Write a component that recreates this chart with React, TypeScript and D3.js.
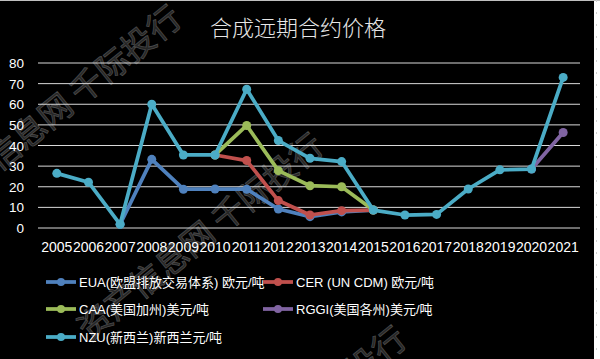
import React from "react";
import * as d3 from "d3";

const years = ["2005","2006","2007","2008","2009","2010","2011","2012","2013","2014","2015","2016","2017","2018","2019","2020","2021"];
const yTicks = [0, 10, 20, 30, 40, 50, 60, 70, 80];

// values (null = no data)
const euaValues: (number | null)[] = [null, null, 1.8, 33.3, 18.8, 18.9, 18.8, 9.2, 5.5, 7.8, 8.7, null, null, null, null, null, null];
const cerValues: (number | null)[] = [null, null, null, null, null, 35.4, 32.7, 13.3, 6.3, 8.4, 8.7, null, null, null, null, null, null];
const caaValues: (number | null)[] = [null, null, null, null, null, 35.4, 49.7, 27.8, 20.5, 20.0, 8.7, null, null, null, null, null, null];
const rggiValues: (number | null)[] = [null, null, null, null, null, null, null, null, null, null, null, null, null, null, null, 28.6, 46.3];
const nzuValues: (number | null)[] = [26.5, 22.2, 1.8, 60.0, 35.4, 35.4, 67.3, 42.4, 33.8, 32.2, 8.7, 6.3, 6.6, 18.9, 28.2, 28.6, 73.0];

const seriesNames = [
  "EUA(欧盟排放交易体系) 欧元/吨",
  "CER (UN CDM) 欧元/吨",
  "CAA(美国加州)美元/吨",
  "RGGI(美国各州)美元/吨",
  "NZU(新西兰)新西兰元/吨",
];
const seriesColors = ["#4F81BD", "#C0504D", "#9BBB59", "#8064A2", "#4BACC6"];
const seriesValues = [euaValues, cerValues, caaValues, rggiValues, nzuValues];

const title = "合成远期合约价格";
const watermark = "资产信息网 千际投行";

export default function App() {
  const W = 600, H = 359;
  const x = d3.scaleBand<string>().domain(years).range([41, 579]).padding(0);
  const cx = (yr: string) => (x(yr) as number) + x.bandwidth() / 2;
  const y = d3.scaleLinear().domain([0, 80]).range([228, 63]);
  const line = d3
    .line<{ yr: string; v: number | null }>()
    .defined((d) => d.v !== null)
    .x((d) => cx(d.yr))
    .y((d) => y(d.v as number));

  const latin = "'Liberation Sans', 'Noto Sans CJK SC', sans-serif";
  const legendPos = [
    { lx: 46, ly: 282 },
    { lx: 263, ly: 282 },
    { lx: 46, ly: 309 },
    { lx: 263, ly: 309 },
    { lx: 46, ly: 337 },
  ];
  const wms = [
    { x: 57, y: 107 },
    { x: 199, y: 235 },
    { x: 282, y: 428 },
  ];

  return (
    <svg width={W} height={H} style={{ position: "absolute", left: 0, top: 0, display: "block" }}>
      <rect x={0} y={0} width={W} height={H} fill="#ffffff" />
      <rect x={0} y={0} width={594} height={H} fill="#000000" />
      <line x1={0} x2={600} y1={0.5} y2={0.5} stroke="#bfbfbf" />
      <line x1={596.5} x2={596.5} y1={0} y2={H} stroke="#d0d0d0" strokeDasharray="2,10" />

      {wms.map((p, i) => (
        <text
          key={"wm" + i}
          x={p.x}
          y={p.y}
          transform={`rotate(-39 ${p.x} ${p.y})`}
          textAnchor="middle"
          dominantBaseline="central"
          fontFamily="'Noto Sans CJK SC', sans-serif"
          fontSize={33}
          fill="#262626"
          stroke="#4a4a4a"
          strokeWidth={0.8}
        >
          {watermark}
        </text>
      ))}

      <text x={298} y={36} textAnchor="middle" fontFamily="'Noto Sans CJK SC', sans-serif" fontWeight={300} fontSize={22} fill="#e6e6e6">
        {title}
      </text>

      {yTicks.map((t) => (
        <g key={"g" + t}>
          <line x1={38} x2={580} y1={y(t)} y2={y(t)} stroke="#d9d9d9" strokeWidth={1} />
          <text x={24} y={y(t) + 5} textAnchor="end" fontFamily={latin} fontSize={13.5} fill="#ffffff">
            {t}
          </text>
        </g>
      ))}

      {years.map((yr) => (
        <text key={"x" + yr} x={cx(yr)} y={252} textAnchor="middle" fontFamily={latin} fontSize={14} fill="#ffffff">
          {yr}
        </text>
      ))}

      {seriesValues.map((vals, si) => {
        const data = years.map((yr, i) => ({ yr, v: vals[i] }));
        return (
          <g key={"s" + si}>
            <path d={line(data) || ""} fill="none" stroke={seriesColors[si]} strokeWidth={3.75} strokeLinejoin="round" strokeLinecap="round" />
            {data
              .filter((d) => d.v !== null)
              .map((d) => (
                <circle key={d.yr} cx={cx(d.yr)} cy={y(d.v as number)} r={4.5} fill={seriesColors[si]} />
              ))}
          </g>
        );
      })}

      {seriesNames.map((name, i) => {
        const p = legendPos[i];
        return (
          <g key={"l" + i}>
            <line x1={p.lx} x2={p.lx + 30} y1={p.ly} y2={p.ly} stroke={seriesColors[i]} strokeWidth={3.75} />
            <circle cx={p.lx + 15} cy={p.ly} r={4} fill={seriesColors[i]} />
            <text x={p.lx + 33} y={p.ly + 5} fontFamily={latin} fontSize={13} fill="#ffffff">
              {name}
            </text>
          </g>
        );
      })}
    </svg>
  );
}
